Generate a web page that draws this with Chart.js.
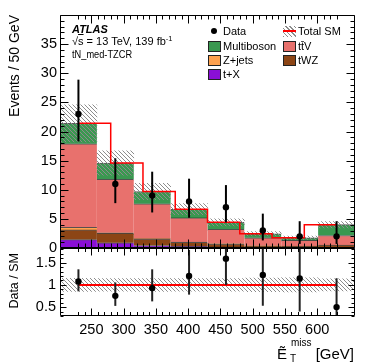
<!DOCTYPE html>
<html>
<head>
<meta charset="utf-8">
<script src="https://cdn.jsdelivr.net/npm/chart.js"></script>
<style>
  body { margin: 0; background: #fff; }
  #wrap { position: relative; width: 374px; height: 363px; overflow: hidden;
          font-family: "Liberation Sans", Arial, Helvetica, sans-serif; color: #000; }
  #c { position: absolute; left: 0; top: 0; }
  .t { position: absolute; white-space: nowrap; line-height: 1; }
  .vt { position: absolute; writing-mode: vertical-rl; transform: rotate(180deg); white-space: nowrap; line-height: 1; }
  .leg { position: absolute; height: 14px; line-height: 14px; font-size: 11px; white-space: nowrap; }
  .sw { position: absolute; width: 13px; height: 11px; box-sizing: border-box; border: 1px solid #222; }
  .dot { position: absolute; width: 6px; height: 6px; border-radius: 50%; background: #000; }
  .hatch { background: repeating-linear-gradient(45deg, #8c8c8c 0 1px, #fff 1px 3px); }
</style>
</head>
<body>
<div id="wrap">
  <canvas id="c" width="374" height="363"></canvas>

  <div class="vt" style="left:7px; top:15px; font-size:14px;">Events / 50 GeV</div>
  <div class="vt" style="left:8px; top:253px; font-size:12.5px;">Data / SM</div>

  <div class="t" style="left:72px; top:24px; font-size:11px; font-weight:bold; font-style:italic;">ATLAS</div>
  <div class="t" style="left:72px; top:36px; font-size:11px;">√<span style="text-decoration:overline">s</span> = 13 TeV, 139 fb<span style="font-size:7.5px; position:relative; top:-4px;">-1</span></div>
  <div class="t" style="left:72px; top:49px; font-size:11px; transform:scaleX(0.84); transform-origin:left top;">tN_med-TZCR</div>

  <!-- legend, left column -->
  <div class="dot" style="left:211px; top:28px;"></div>
  <div class="leg" style="left:223px; top:24px;">Data</div>
  <div class="sw" style="left:208px; top:40.5px; background:#3a9850;"></div>
  <div class="leg" style="left:223px; top:39px;">Multiboson</div>
  <div class="sw" style="left:208px; top:54.5px; background:#ffa24f;"></div>
  <div class="leg" style="left:223px; top:53px;">Z+jets</div>
  <div class="sw" style="left:208px; top:68.5px; background:#8a0fd6;"></div>
  <div class="leg" style="left:223px; top:67px;">t+X</div>
  <!-- legend, right column -->
  <div class="hatch" style="position:absolute; left:283px; top:25.5px; width:13px; height:11px;"></div>
  <div style="position:absolute; left:283px; top:30.3px; width:13px; height:1.5px; background:#f00;"></div>
  <div class="leg" style="left:298px; top:24px;">Total SM</div>
  <div class="sw" style="left:283px; top:40.5px; background:#e8716d;"></div>
  <div class="leg" style="left:298px; top:39px;">tt̄V</div>
  <div class="sw" style="left:283px; top:54.5px; background:#8c4515;"></div>
  <div class="leg" style="left:298px; top:53px;">tWZ</div>

  <!-- x axis title -->
  <div class="t" style="left:277px; top:345.5px; font-size:15px;">Ẽ</div>
  <div class="t" style="left:291px; top:337.5px; font-size:10px;">miss</div>
  <div class="t" style="left:290px; top:354px; font-size:10px;">T</div>
  <div class="t" style="right:20px; top:345.5px; font-size:15px;">[GeV]</div>
</div>

<script>
// bins are 50 GeV wide, from 230 to 630 GeV
const binCenters = [255, 305, 355, 405, 455, 505, 555, 605];
const binWidth = 50;
const xTickValues = [250, 300, 350, 400, 450, 500, 550, 600];
const yTickValues = [0, 5, 10, 15, 20, 25, 30, 35];
const ratioTickValues = [0.5, 1, 1.5];

// stacked backgrounds, bottom to top
const tX         = [1.45, 0.90, 0.43, 0.30, 0.18, 0.10, 0.08, 0.10];
const tWZ        = [1.65, 1.60, 1.12, 0.68, 0.50, 0.25, 0.22, 0.40];
const zJets      = [0.45, 0.10, 0.05, 0.03, 0.03, 0.02, 0.02, 0.02];
const ttV        = [14.35, 9.20, 6.00, 4.15, 2.49, 1.38, 0.98, 1.62];
const multiboson = [3.50, 2.80, 2.10, 1.50, 1.20, 0.70, 0.45, 1.86];
const smUnc      = [3.2, 2.1, 1.4, 0.95, 0.62, 0.38, 0.28, 0.55];

const dataCounts = [23, 11, 9, 8, 7, 3, 2, 2];
const dataErrUp   = [5.9, 4.4, 4.1, 3.9, 3.8, 2.9, 2.6, 2.6];
const dataErrDown = [4.7, 3.3, 2.9, 2.8, 2.6, 1.7, 1.3, 1.3];

const yMax = 40;
const ratioMin = 0.3, ratioMax = 1.83;

const total = binCenters.map((_, i) => tX[i] + tWZ[i] + zJets[i] + ttV[i] + multiboson[i]);
const totalStep = binCenters.map((c, i) => ({ x: c - binWidth / 2, y: total[i] }));
totalStep.push({ x: binCenters[binCenters.length - 1] + binWidth / 2, y: total[total.length - 1] });

const ratio = dataCounts.map((d, i) => d / total[i]);
const ratioErr = dataCounts.map((d, i) => [
    Math.max(ratioMin, (d - dataErrDown[i]) / total[i]),
    Math.min(ratioMax, (d + dataErrUp[i]) / total[i])
]);

const FONT = '"Liberation Sans", Arial, Helvetica, sans-serif';
const canvas = document.getElementById('c');
const ctx = canvas.getContext('2d');

function makeHatch() {
    const c = document.createElement('canvas');
    c.width = 4; c.height = 4;
    const g = c.getContext('2d');
    g.strokeStyle = '#8c8c8c';
    g.lineWidth = 1;
    g.beginPath();
    g.moveTo(0, 0); g.lineTo(4, 4);
    g.moveTo(-1, 3); g.lineTo(1, 5);
    g.moveTo(3, -1); g.lineTo(5, 1);
    g.stroke();
    return ctx.createPattern(c, 'repeat');
}
const hatch = makeHatch();

// frame and inward ticks on both pads, ROOT style
const frameTicks = {
    id: 'frameTicks',
    afterDatasetsDraw(chart) {
        const g = chart.ctx;
        const xs = chart.scales.xl;
        const L = Math.round(chart.chartArea.left) + 0.5;
        const R = Math.round(chart.chartArea.right) - 0.5;
        const pads = [
            { s: chart.scales.y, from: 0, to: 40, step: 1, every: 5, yMaj: 8, yMin: 4, xMaj: 8, xMin: 4 },
            { s: chart.scales.yr, from: 3, to: 18, step: 0.1, every: 5, yMaj: 6, yMin: 3, xMaj: 7, xMin: 3.5 }
        ];
        g.save();
        g.strokeStyle = '#000';
        g.lineWidth = 1;
        g.beginPath();
        for (const p of pads) {
            const T = Math.round(p.s.top) + 0.5;
            const B = Math.round(p.s.bottom) - 0.5;
            g.rect(L, T, R - L, B - T);
            for (let k = 23; k <= 63; k++) {
                const x = Math.round(xs.getPixelForValue(k * 10)) + 0.5;
                const len = (k % 5 === 0) ? p.xMaj : p.xMin;
                g.moveTo(x, B); g.lineTo(x, B - len);
                g.moveTo(x, T); g.lineTo(x, T + len);
            }
            for (let k = p.from; k <= p.to; k++) {
                const y = Math.round(p.s.getPixelForValue(k * p.step)) + 0.5;
                const len = (k % p.every === 0) ? p.yMaj : p.yMin;
                g.moveTo(L, y); g.lineTo(L + len, y);
                g.moveTo(R, y); g.lineTo(R - len, y);
            }
        }
        g.stroke();
        g.restore();
    }
};

function stackSet(label, values, color) {
    return {
        type: 'bar', label, data: values, backgroundColor: color,
        borderColor: 'rgba(0,0,0,0.65)', borderWidth: { top: 1, left: 0, right: 0, bottom: 0 },
        borderSkipped: false, stack: 'sm', xAxisID: 'x', yAxisID: 'y', grouped: false,
        barPercentage: 1, categoryPercentage: 1, order: 5
    };
}

const noGrid = { display: false, drawTicks: false };
const plainLabel = v => String(v);

new Chart(ctx, {
    type: 'bar',
    data: {
        labels: binCenters,
        datasets: [
            // stack, first dataset sits at the bottom
            stackSet('t+X', tX, '#8a0fd6'),
            stackSet('tWZ', tWZ, '#8c4515'),
            stackSet('Z+jets', zJets, '#ffa24f'),
            stackSet('ttV', ttV, '#e8716d'),
            stackSet('Multiboson', multiboson, '#3a9850'),
            // main pad overlays
            { type: 'bar', label: 'SM unc', data: total.map((t, i) => [t - smUnc[i], t + smUnc[i]]),
              xAxisID: 'x', yAxisID: 'y', stack: 'unc', grouped: false, barPercentage: 1, categoryPercentage: 1,
              backgroundColor: hatch, order: 3 },
            { type: 'line', label: 'Total SM', data: totalStep, xAxisID: 'xl', yAxisID: 'y', stack: 'tl',
              stepped: true, borderColor: '#ff0000', borderWidth: 1.5, pointRadius: 0, order: 2 },
            { type: 'bar', label: 'Data err', data: dataCounts.map((d, i) => [d - dataErrDown[i], d + dataErrUp[i]]),
              xAxisID: 'x', yAxisID: 'y', stack: 'de', grouped: false, maxBarThickness: 2,
              backgroundColor: '#000', order: 1 },
            { type: 'line', label: 'Data', data: dataCounts, xAxisID: 'x', yAxisID: 'y', stack: 'd',
              showLine: false, pointRadius: 3.2, pointBackgroundColor: '#000', pointBorderWidth: 0, order: 0 },
            // ratio pad
            { type: 'bar', label: 'Ratio unc', data: total.map((t, i) => [1 - smUnc[i] / t, 1 + smUnc[i] / t]),
              xAxisID: 'x', yAxisID: 'yr', stack: 'runc', grouped: false, barPercentage: 1, categoryPercentage: 1,
              backgroundColor: hatch, order: 3 },
            { type: 'line', label: 'One', data: [{ x: 230, y: 1 }, { x: 630, y: 1 }], xAxisID: 'xl', yAxisID: 'yr',
              borderColor: '#ff0000', borderWidth: 2, pointRadius: 0, order: 2 },
            { type: 'bar', label: 'Ratio err', data: ratioErr, xAxisID: 'x', yAxisID: 'yr', stack: 'rerr', grouped: false,
              maxBarThickness: 2, backgroundColor: '#222', order: 1 },
            { type: 'line', label: 'Ratio', data: ratio, xAxisID: 'x', yAxisID: 'yr',
              showLine: false, pointRadius: 3.2, pointBackgroundColor: '#000', pointBorderWidth: 0, order: 0 }
        ]
    },
    options: {
        responsive: false,
        animation: false,
        devicePixelRatio: 1,
        layout: { padding: { left: 0, right: 19, top: 15, bottom: 0 } },
        plugins: { legend: { display: false }, tooltip: { enabled: false } },
        scales: {
            x: { type: 'category', display: false, offset: true },
            xl: {
                type: 'linear', position: 'bottom', min: 230, max: 630,
                afterBuildTicks: s => { s.ticks = xTickValues.map(v => ({ value: v })); },
                afterFit: s => { s.height = 47; },
                grid: noGrid, border: { display: false },
                ticks: { color: '#000', padding: 5, maxRotation: 0, autoSkip: false, callback: plainLabel,
                         font: { family: FONT, size: 14.5 } }
            },
            yr: {
                type: 'linear', position: 'left', stack: 'pads', stackWeight: 68,
                min: ratioMin, max: ratioMax, stacked: false,
                afterBuildTicks: s => { s.ticks = ratioTickValues.map(v => ({ value: v })); },
                afterFit: s => { s.width = 60; },
                grid: noGrid, border: { display: false },
                ticks: { color: '#000', padding: 4, autoSkip: false, callback: plainLabel,
                         font: { family: FONT, size: 14.5 } }
            },
            y: {
                type: 'linear', position: 'left', stack: 'pads', stackWeight: 233,
                min: 0, max: yMax, stacked: true,
                afterBuildTicks: s => { s.ticks = yTickValues.map(v => ({ value: v })); },
                afterFit: s => { s.width = 60; },
                grid: noGrid, border: { display: false },
                ticks: { color: '#000', padding: 3, autoSkip: false, callback: plainLabel,
                         font: { family: FONT, size: 14.5 } }
            }
        }
    },
    plugins: [frameTicks]
});
</script>
</body>
</html>
